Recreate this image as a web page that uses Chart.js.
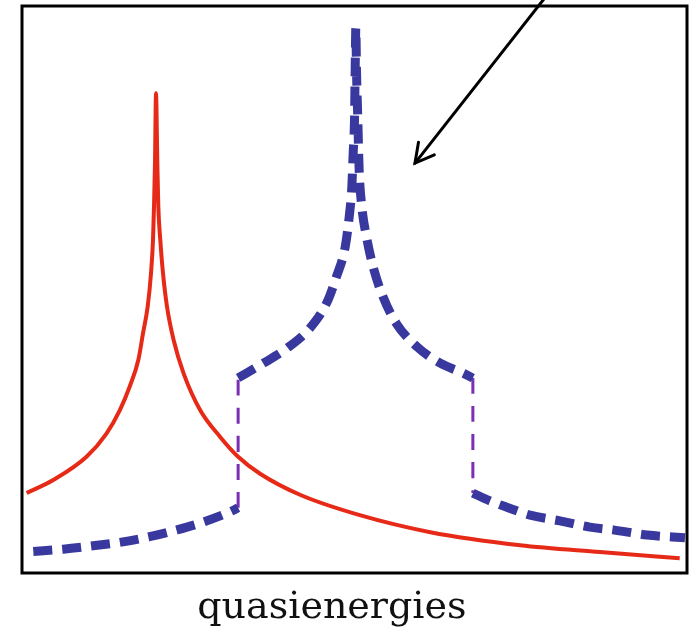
<!DOCTYPE html>
<html>
<head>
<meta charset="utf-8">
<script src="https://cdn.jsdelivr.net/npm/chart.js@4/dist/chart.umd.min.js"></script>
<style>
  html, body { margin: 0; padding: 0; background: #fff; }
  #wrap { width: 699px; height: 633px; }
</style>
</head>
<body>
<div id="wrap"><canvas id="dosChart" width="699" height="633"></canvas></div>
<script>
// Red solid curve (single peak)
const redX = [0.07, 0.47, 0.97, 1.27, 1.47, 1.62, 1.75, 1.82, 1.89, 1.94, 1.97, 1.985, 2.00, 2.015,
              2.035, 2.05, 2.08, 2.12, 2.18, 2.28, 2.43, 2.68, 2.98, 3.25, 3.58, 4.18, 5.08, 6.14, 7.49, 8.69, 9.89];
const redY = [1.41, 1.64, 2.05, 2.46, 2.87, 3.29, 3.76, 4.23, 4.70, 5.29, 5.87, 6.46, 7.23, 8.46,
              7.23, 6.46, 5.87, 5.29, 4.70, 4.11, 3.52, 2.87, 2.40, 2.05, 1.75, 1.38, 1.02, 0.72, 0.49, 0.37, 0.26];

// Blue dashed curve, three pieces split by the two jumps
const blueLowX = [0.17, 0.62, 1.07, 1.47, 1.92, 2.33, 2.73, 3.13, 3.25];
const blueLowY = [0.38, 0.42, 0.48, 0.54, 0.64, 0.76, 0.90, 1.08, 1.15];
const bluePeakX = [3.25, 3.63, 3.98, 4.33, 4.58, 4.73, 4.86, 4.92, 4.96, 4.98, 5.00, 5.01, 5.02,
                   5.03, 5.05, 5.07, 5.11, 5.18, 5.28, 5.43, 5.63, 5.94, 6.29, 6.64, 6.78];
const bluePeakY = [3.44, 3.70, 3.96, 4.32, 4.76, 5.23, 5.75, 6.28, 6.81, 7.40, 7.99, 8.87, 9.61,
                   8.87, 7.99, 7.11, 6.46, 5.93, 5.40, 4.87, 4.40, 3.99, 3.70, 3.52, 3.44];
const blueHighX = [6.78, 7.04, 7.29, 7.64, 8.09, 8.54, 8.89, 9.40, 9.97];
const blueHighY = [1.41, 1.27, 1.16, 1.02, 0.92, 0.81, 0.76, 0.67, 0.62];

// Purple dashed jumps
const jumpLeftX = [3.25, 3.25];
const jumpLeftY = [1.15, 3.44];
const jumpRightX = [6.78, 6.78];
const jumpRightY = [3.44, 1.41];

// Arrow (tail above the frame, tip inside)
const arrowTail = [7.9, 10.2];
const arrowTip = [5.91, 7.23];

const xLabel = 'quasienergies';
const xLabelAt = 4.66;

const pts = (xs, ys) => xs.map((x, i) => ({ x, y: ys[i] }));

const RED = '#e62a17';
const BLUE = '#38389e';
const PURPLE = '#7b2fb5';

// frame, arrow and axis label
const decor = {
  id: 'decor',
  afterDraw(chart) {
    const { ctx, chartArea: a, scales } = chart;
    const sx = scales.x, sy = scales.y;
    ctx.save();
    ctx.strokeStyle = '#000';
    ctx.lineWidth = 3;
    ctx.strokeRect(a.left, a.top, a.right - a.left, a.bottom - a.top);

    // arrow
    const tx = sx.getPixelForValue(arrowTail[0]), ty = sy.getPixelForValue(arrowTail[1]);
    const hx = sx.getPixelForValue(arrowTip[0]), hy = sy.getPixelForValue(arrowTip[1]);
    ctx.lineWidth = 3;
    ctx.lineCap = 'round';
    ctx.beginPath(); ctx.moveTo(tx, ty); ctx.lineTo(hx, hy); ctx.stroke();
    const ang = Math.atan2(ty - hy, tx - hx);
    const len = 21, spread = 0.5;
    ctx.beginPath();
    ctx.moveTo(hx + len * Math.cos(ang - spread), hy + len * Math.sin(ang - spread));
    ctx.lineTo(hx, hy);
    ctx.lineTo(hx + len * Math.cos(ang + spread), hy + len * Math.sin(ang + spread));
    ctx.stroke();

    // x label
    ctx.fillStyle = '#111';
    ctx.font = '38px "DejaVu Serif"';
    ctx.textAlign = 'center';
    ctx.textBaseline = 'alphabetic';
    ctx.fillText(xLabel, sx.getPixelForValue(xLabelAt), a.bottom + 45);
    ctx.restore();
  }
};

const lineDs = (data, color, width, dash, order) => ({
  data, borderColor: color, borderWidth: width, borderDash: dash,
  pointRadius: 0, showLine: true, fill: false,
  cubicInterpolationMode: 'monotone', borderCapStyle: 'butt', order
});

new Chart(document.getElementById('dosChart'), {
  type: 'scatter',
  data: {
    datasets: [
      lineDs(pts(jumpLeftX, jumpLeftY), PURPLE, 3, [16, 12], 3),
      lineDs(pts(jumpRightX, jumpRightY), PURPLE, 3, [16, 12], 3),
      lineDs(pts(redX, redY), RED, 4, [], 2),
      lineDs(pts(blueLowX, blueLowY), BLUE, 9, [19, 10], 1),
      lineDs(pts(bluePeakX, bluePeakY), BLUE, 9, [19, 10], 1),
      lineDs(pts(blueHighX, blueHighY), BLUE, 9, [19, 10], 1)
    ]
  },
  options: {
    responsive: false,
    animation: false,
    layout: { padding: { left: 22, right: 12, top: 6, bottom: 60 } },
    plugins: { legend: { display: false }, tooltip: { enabled: false } },
    scales: {
      x: { type: 'linear', min: 0, max: 10, display: false },
      y: { type: 'linear', min: 0, max: 10, display: false }
    }
  },
  plugins: [decor]
});
</script>
</body>
</html>
